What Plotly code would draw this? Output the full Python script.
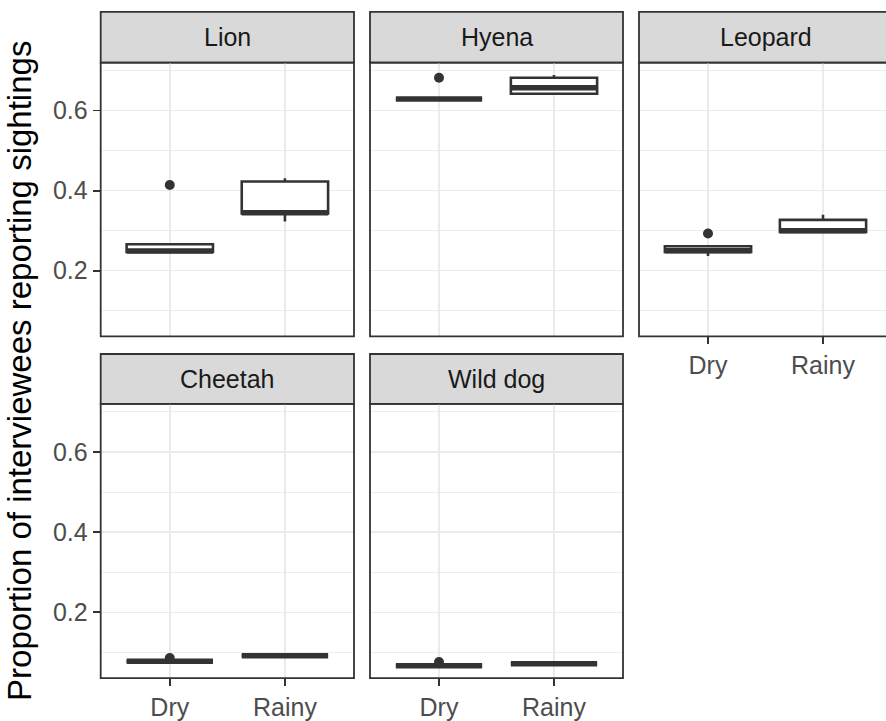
import plotly.graph_objects as go

# ---------------- data ----------------
animals = ["Lion", "Hyena", "Leopard", "Cheetah", "Wild dog"]
seasons = ["Dry", "Rainy"]
season_pos = [1, 2]

# box statistics per animal: [Dry, Rainy]
q1_vals = [[0.247, 0.343], [0.629, 0.642], [0.247, 0.297], [0.078, 0.092], [0.067, 0.072]]
median_vals = [[0.249, 0.345], [0.629, 0.657], [0.250, 0.300], [0.078, 0.092], [0.067, 0.072]]
q3_vals = [[0.266, 0.423], [0.629, 0.682], [0.261, 0.327], [0.078, 0.092], [0.067, 0.072]]
lower_vals = [[0.247, 0.323], [0.629, 0.642], [0.237, 0.297], [0.078, 0.092], [0.067, 0.072]]
upper_vals = [[0.266, 0.431], [0.629, 0.689], [0.261, 0.340], [0.078, 0.092], [0.067, 0.072]]

# outliers
outlier_animal = ["Lion", "Hyena", "Leopard", "Cheetah", "Wild dog"]
outlier_season = ["Dry", "Dry", "Dry", "Dry", "Dry"]
outlier_value = [0.414, 0.682, 0.293, 0.086, 0.076]

y_tickvals = [0.2, 0.4, 0.6]
y_ticktext = ["0.2", "0.4", "0.6"]

# ---------------- layout geometry (page pixels) ----------------
W, H = 886, 721


def px_x(p):
    return p / W


def px_y(p):
    return 1 - p / H


col_px = [(100.7, 354.0), (370.0, 623.0), (639.0, 892.0)]
row_px = [(62.7, 337.3), (405.0, 680.0)]
strip_px = [(12.0, 62.7), (355.0, 405.0)]
panel_rc = {"Lion": (0, 0), "Hyena": (0, 1), "Leopard": (0, 2), "Cheetah": (1, 0), "Wild dog": (1, 1)}

DARK = "#333333"
GRID = "#EBEBEB"
FONT = "Liberation Sans, Arial, sans-serif"
BOX_W = 0.75

all_vals = [v for pair in lower_vals + upper_vals for v in pair] + outlier_value
ymin, ymax = min(all_vals), max(all_vals)
pad = 0.05 * (ymax - ymin)
y_range = [ymin - pad, ymax + pad]

fig = go.Figure()
layout = dict(
    width=W, height=H,
    margin=dict(l=0, r=0, t=0, b=0),
    paper_bgcolor="white", plot_bgcolor="white",
    showlegend=False,
    font=dict(family=FONT),
    shapes=[], annotations=[],
)

for i, animal in enumerate(animals):
    r, c = panel_rc[animal]
    n = i + 1
    xa = "x" if n == 1 else f"x{n}"
    ya = "y" if n == 1 else f"y{n}"
    x0p, x1p = col_px[c]
    x1v = min(x1p, W)
    y0p, y1p = row_px[r]
    xr = [0.4, 0.4 + 2.2 * (x1v - x0p) / (x1p - x0p)]

    show_x = (r == 1) or (animal == "Leopard")
    show_y = (c == 0)

    layout["xaxis" if n == 1 else f"xaxis{n}"] = dict(
        domain=[px_x(x0p), min(1.0, px_x(x1v))], range=xr, anchor=ya,
        tickvals=season_pos, ticktext=seasons,
        showgrid=True, gridcolor=GRID, gridwidth=1.6,
        zeroline=False, showline=False,
        ticks="outside" if show_x else "", ticklen=7, tickwidth=1.8, tickcolor=DARK,
        showticklabels=show_x,
        tickfont=dict(size=25, color="#4D4D4D", family=FONT),
    )
    layout["yaxis" if n == 1 else f"yaxis{n}"] = dict(
        domain=[px_y(y1p), px_y(y0p)], range=y_range, anchor=xa,
        tickvals=y_tickvals, ticktext=y_ticktext,
        showgrid=True, gridcolor=GRID, gridwidth=1.6,
        minor=dict(dtick=0.1, tick0=0, showgrid=True, gridcolor=GRID, gridwidth=0.9, ticks=""),
        zeroline=False, showline=False,
        ticks="outside" if show_y else "", ticklen=7, tickwidth=1.8, tickcolor=DARK,
        showticklabels=show_y,
        tickfont=dict(size=25, color="#4D4D4D", family=FONT),
    )

    # boxes
    fig.add_trace(go.Box(
        x=season_pos, q1=q1_vals[i], median=median_vals[i], q3=q3_vals[i],
        lowerfence=lower_vals[i], upperfence=upper_vals[i],
        width=BOX_W, whiskerwidth=0, fillcolor="white",
        line=dict(color=DARK, width=2.6), boxpoints=False,
        xaxis=xa, yaxis=ya, hoverinfo="skip",
    ))
    # thicker median lines (ggplot fatten)
    mx, my = [], []
    for p, m in zip(season_pos, median_vals[i]):
        mx += [p - BOX_W / 2, p + BOX_W / 2, None]
        my += [m, m, None]
    fig.add_trace(go.Scatter(x=mx, y=my, mode="lines",
                             line=dict(color=DARK, width=5.5),
                             xaxis=xa, yaxis=ya, hoverinfo="skip"))
    # outliers
    ox = [season_pos[seasons.index(s)] for a, s in zip(outlier_animal, outlier_season) if a == animal]
    oy = [v for a, v in zip(outlier_animal, outlier_value) if a == animal]
    fig.add_trace(go.Scatter(x=ox, y=oy, mode="markers",
                             marker=dict(color=DARK, size=10),
                             xaxis=xa, yaxis=ya, hoverinfo="skip"))

    # panel border
    layout["shapes"].append(dict(type="rect", xref="paper", yref="paper",
                                 x0=px_x(x0p), x1=px_x(x1p), y0=px_y(y1p), y1=px_y(y0p),
                                 line=dict(color=DARK, width=1.8), fillcolor="rgba(0,0,0,0)",
                                 layer="above"))
    # strip
    s0, s1 = strip_px[r]
    layout["shapes"].append(dict(type="rect", xref="paper", yref="paper",
                                 x0=px_x(x0p), x1=px_x(x1p), y0=px_y(s1), y1=px_y(s0),
                                 line=dict(color=DARK, width=1.8), fillcolor="#D9D9D9",
                                 layer="below"))
    layout["annotations"].append(dict(
        text=animal, xref="paper", yref="paper",
        x=px_x((x0p + x1p) / 2), y=px_y((s0 + s1) / 2),
        xanchor="center", yanchor="middle", showarrow=False,
        font=dict(size=25, color="#1A1A1A", family=FONT)))

layout["annotations"].append(dict(
    text="Proportion of interviewees reporting sightings",
    xref="paper", yref="paper", x=px_x(20), y=px_y(372),
    xanchor="center", yanchor="middle", textangle=-90, showarrow=False,
    font=dict(size=33, color="#000000", family=FONT)))

fig.update_layout(**layout)
fig.write_html(
    "out.html",
    config={"displayModeBar": False, "staticPlot": True},
    post_script="document.body.style.margin='0';document.body.style.padding='0';"
                "document.documentElement.style.overflow='hidden';",
)
